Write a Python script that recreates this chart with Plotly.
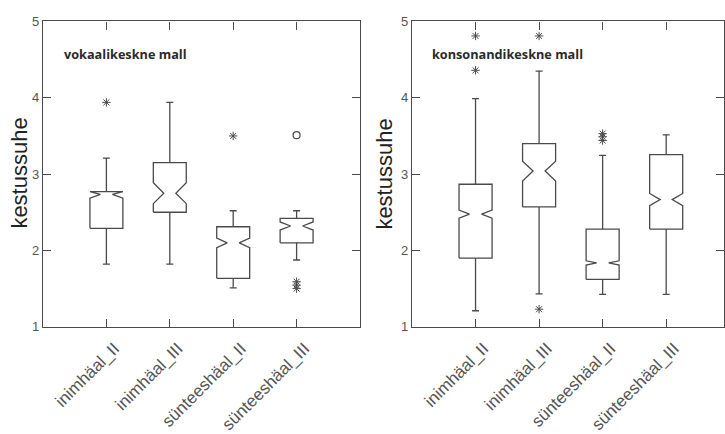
import plotly.graph_objects as go

categories = ["inimhäal_II", "inimhäal_III", "sünteeshäal_II", "sünteeshäal_III"]
panel_titles = ["vokaalikeskne mall", "konsonandikeskne mall"]
y_title = "kestussuhe"
y_ticks = [1, 2, 3, 4, 5]

# left panel (vokaalikeskne mall)
v_lowerfence = [1.82, 1.82, 1.51, 1.875]
v_q1 = [2.29, 2.50, 1.635, 2.10]
v_median = [2.735, 2.75, 2.098, 2.32]
v_q3 = [2.77, 3.15, 2.31, 2.42]
v_upperfence = [3.21, 3.94, 2.52, 2.52]
v_notch = [0.05, 0.137, 0.063, 0.053]
v_out_star = [[3.94], [], [3.50], [1.59, 1.545, 1.50]]
v_out_circle = [[], [], [], [3.51]]

# right panel (konsonandikeskne mall)
k_lowerfence = [1.21, 1.43, 1.425, 1.425]
k_q1 = [1.90, 2.57, 1.62, 2.28]
k_median = [2.476, 3.04, 1.836, 2.666]
k_q3 = [2.867, 3.40, 2.28, 3.255]
k_upperfence = [3.99, 4.35, 3.246, 3.515]
k_notch = [0.053, 0.13, 0.028, 0.08]
k_out_star = [[4.81, 4.36], [4.81, 1.23], [3.53, 3.49, 3.44], []]
k_out_circle = [[], [], [], []]

LINE = "#4a4a4a"
HALF_W = 0.26
DEPTH = 0.165
CAP = 0.055


def box_paths(lo, q1, med, q3, hi, notch):
    xs, ys = [], []
    for i in range(len(lo)):
        c = i + 1
        l, r = c - HALF_W, c + HALF_W
        nlo = max(med[i] - notch[i], q1[i])
        nhi = min(med[i] + notch[i], q3[i])
        # outline with notch
        xs += [l, l, l + DEPTH, l, l, r, r, r - DEPTH, r, r, l, None]
        ys += [q1[i], nlo, med[i], nhi, q3[i], q3[i], nhi, med[i], nlo, q1[i], q1[i], None]
        # whiskers
        xs += [c, c, None, c, c, None]
        ys += [q3[i], hi[i], None, q1[i], lo[i], None]
        # caps
        xs += [c - CAP, c + CAP, None, c - CAP, c + CAP, None]
        ys += [hi[i], hi[i], None, lo[i], lo[i], None]
    return xs, ys


def outlier_xy(groups):
    xs, ys = [], []
    for i, g in enumerate(groups):
        for v in g:
            xs.append(i + 1)
            ys.append(v)
    return xs, ys


fig = go.Figure()
panels = [
    (v_lowerfence, v_q1, v_median, v_q3, v_upperfence, v_notch, v_out_star, v_out_circle, "x", "y"),
    (k_lowerfence, k_q1, k_median, k_q3, k_upperfence, k_notch, k_out_star, k_out_circle, "x2", "y2"),
]
for lo, q1, med, q3, hi, nt, ostar, ocirc, xa, ya in panels:
    bx, by = box_paths(lo, q1, med, q3, hi, nt)
    fig.add_trace(go.Scatter(x=bx, y=by, mode="lines", line=dict(color=LINE, width=1.3),
                             xaxis=xa, yaxis=ya, showlegend=False, hoverinfo="skip"))
    sx, sy = outlier_xy(ostar)
    fig.add_trace(go.Scatter(x=sx, y=sy, mode="markers",
                             marker=dict(symbol="asterisk-open", size=7, color=LINE,
                                         line=dict(color=LINE, width=1.0)),
                             xaxis=xa, yaxis=ya, showlegend=False))
    cx, cy = outlier_xy(ocirc)
    fig.add_trace(go.Scatter(x=cx, y=cy, mode="markers",
                             marker=dict(symbol="circle-open", size=7, color=LINE,
                                         line=dict(color=LINE, width=1.2)),
                             xaxis=xa, yaxis=ya, showlegend=False))

W, H = 725, 434
ydom = [(434 - 332) / H, (434 - 15) / H]

xcommon = dict(
    tickvals=[1, 2, 3, 4], ticktext=categories, tickangle=-45,
    ticks="inside", ticklen=8, tickcolor=LINE, showline=True, linecolor=LINE, linewidth=1.2,
    mirror="ticks", showgrid=False, zeroline=False, ticklabelstandoff=4, ticklabelshift=8,
    tickfont=dict(family="Liberation Sans, Arial", size=17, color="#555555"),
)
ycommon = dict(
    range=[1, 5], tickvals=y_ticks, ticks="inside", ticklen=8, tickcolor=LINE,
    showline=True, linecolor=LINE, linewidth=1.2, mirror="ticks", showgrid=False, zeroline=False,
    tickfont=dict(family="Liberation Sans, Arial", size=13, color="#555555"),
)

fig.update_layout(
    width=W, height=H, margin=dict(l=0, r=0, t=0, b=0),
    paper_bgcolor="white", plot_bgcolor="white",
    xaxis=dict(domain=[43 / W, 360 / W], range=[0, 5], anchor="y", **xcommon),
    yaxis=dict(domain=ydom, anchor="x", **ycommon),
    xaxis2=dict(domain=[412 / W, 724 / W], range=[0, 4.91], anchor="y2", **xcommon),
    yaxis2=dict(domain=ydom, anchor="x2", **ycommon),
)

annotations = []
for xc in [20, 385]:
    annotations.append(dict(x=xc / W, y=(434 - 173) / H, xref="paper", yref="paper",
                            text=y_title, textangle=-90, showarrow=False,
                            font=dict(family="Liberation Sans, Arial", size=22, color="#222222"),
                            xanchor="center", yanchor="middle"))
annotations.append(dict(x=62 / W, y=(434 - 49) / H, xref="paper", yref="paper",
                        text="<b>" + panel_titles[0] + "</b>", showarrow=False,
                        font=dict(family="Open Sans", size=12.7, color="#2a2a2a"),
                        xanchor="left", yanchor="middle"))
annotations.append(dict(x=430 / W, y=(434 - 49) / H, xref="paper", yref="paper",
                        text="<b>" + panel_titles[1] + "</b>", showarrow=False,
                        font=dict(family="Open Sans", size=12.7, color="#2a2a2a"),
                        xanchor="left", yanchor="middle"))
fig.update_layout(annotations=annotations)

fig.write_html("out.html")
